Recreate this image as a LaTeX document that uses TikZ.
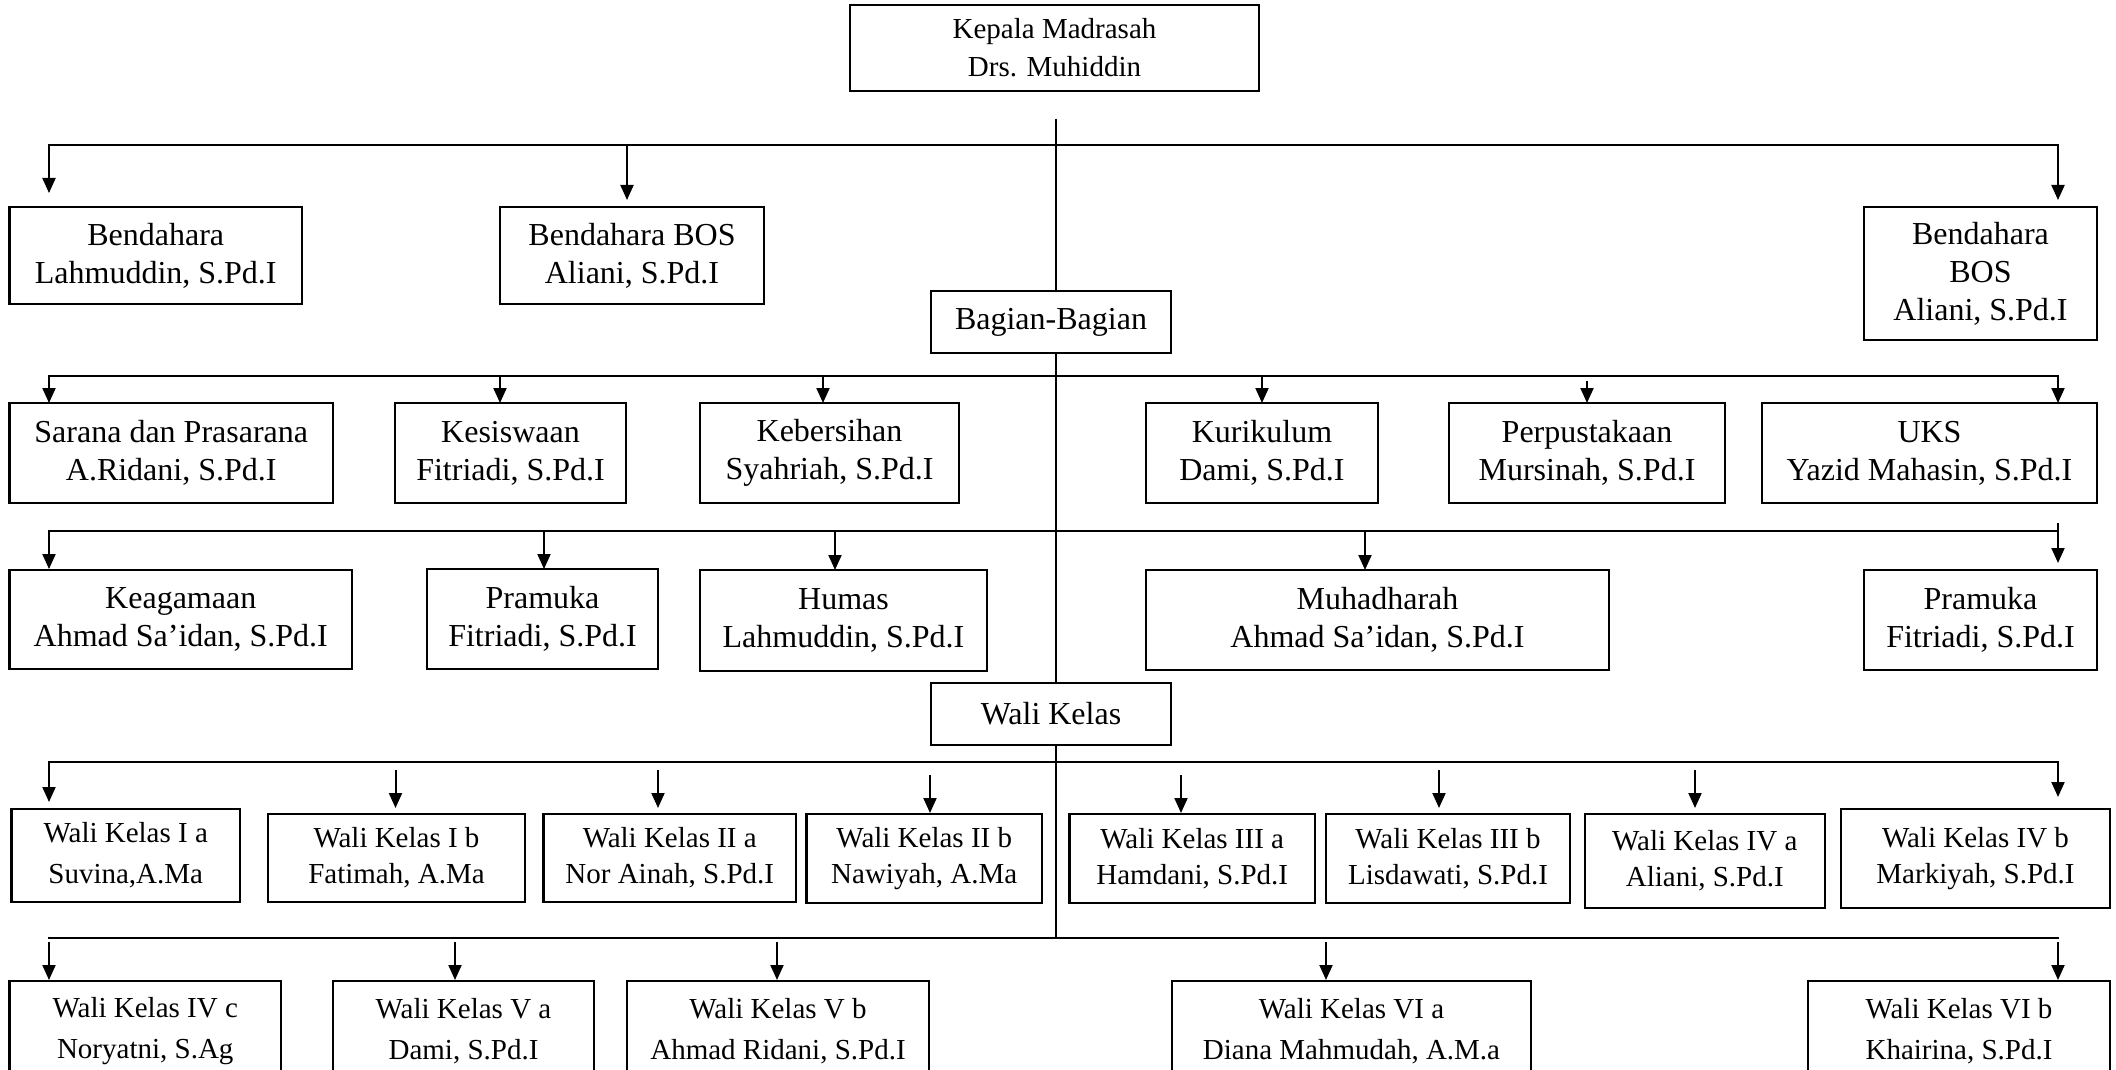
\documentclass[tikz,border=0pt]{standalone}
\usepackage{fontspec}
\setmainfont{Liberation Serif}
\usetikzlibrary{arrows.meta}
\tikzset{
  box/.style={draw, line width=1.1pt, rectangle, inner sep=0pt, align=center},
  bigtxt/.style={font=\fontsize{16pt}{19pt}\selectfont},
  headtxt/.style={font=\fontsize{14.5pt}{19pt}\selectfont},
  smalltxt/.style={font=\fontsize{14.5pt}{18pt}\selectfont},
  lowtxt/.style={font=\fontsize{14.5pt}{20.5pt}\selectfont},
  ln/.style={line width=1pt},
  bus/.style={line width=1.3pt, line cap=rect},
  arr/.style={line width=1pt, -{Triangle[length=7.5pt,width=6.5pt]}}
}
% \obox[style]{name}{x1}{y1}{x2}{y2}{text}
\newcommand\obox[7][bigtxt]{%
  \node[box,#1,minimum width={(#5-#3)*0.5pt},minimum height={(#6-#4)*0.5pt}]
    (#2) at ({(#3+#5)/2},{(#4+#6)/2}) {#7};}
% \drop{name}{x}{ystart}{ytip}
\newcommand\drop[4]{%
  \coordinate (#1s) at (#2,#3); \coordinate (#1t) at (#2,#4);
  \draw[arr] (#1s) -- (#1t);}
\begin{document}
\begin{tikzpicture}[x=0.5pt,y=-0.5pt]
\useasboundingbox (0,0) rectangle (2116,1070);
\clip (0,0) rectangle (2116,1070);
\fill[white] (0,0) rectangle (2116,1070);

% ---- boxes ----
\obox[headtxt]{kepala}{850}{5}{1259}{91}{Kepala Madrasah\\Drs. Muhiddin}
\obox{bendA}{9.5}{207}{302}{304}{Bendahara\\Lahmuddin, S.Pd.I}
\obox{bendB}{500}{207}{764}{304}{Bendahara BOS\\Aliani, S.Pd.I}
\obox{bendC}{1864}{207}{2097}{340}{Bendahara\\BOS\\Aliani, S.Pd.I}
\obox{bagian}{931}{291}{1171}{353}{Bagian-Bagian}

\obox{sarana}{9.5}{403}{333}{503}{Sarana dan Prasarana\\A.Ridani, S.Pd.I}
\obox{kesis}{395}{403}{626}{503}{Kesiswaan\\Fitriadi, S.Pd.I}
\obox{kebers}{700}{403}{959}{503}{Kebersihan\\Syahriah, S.Pd.I}
\obox{kurik}{1146}{403}{1378}{503}{Kurikulum\\Dami, S.Pd.I}
\obox{perpus}{1449}{403}{1725}{503}{Perpustakaan\\Mursinah, S.Pd.I}
\obox{uks}{1762}{403}{2097}{503}{UKS\\Yazid Mahasin, S.Pd.I}

\obox{keag}{9.5}{570}{352}{669}{Keagamaan\\Ahmad Sa’idan, S.Pd.I}
\obox{pramA}{427}{569}{658}{669}{Pramuka\\Fitriadi, S.Pd.I}
\obox{humas}{700}{570}{987}{671}{Humas\\Lahmuddin, S.Pd.I}
\obox{muhad}{1146}{570}{1609}{670}{Muhadharah\\Ahmad Sa’idan, S.Pd.I}
\obox{pramB}{1864}{570}{2097}{670}{Pramuka\\Fitriadi, S.Pd.I}
\obox{walik}{931}{683}{1171}{745}{Wali Kelas}

\obox[lowtxt]{wIa}{11.5}{809}{240}{902}{Wali Kelas I a\\Suvina,A.Ma}
\obox[smalltxt]{wIb}{268}{814}{525}{902}{Wali Kelas I b\\Fatimah, A.Ma}
\obox[smalltxt]{wIIa}{543.5}{814}{796}{902}{Wali Kelas II a\\Nor Ainah, S.Pd.I}
\obox[smalltxt]{wIIb}{806.5}{814}{1042}{903}{Wali Kelas II b\\Nawiyah, A.Ma}
\obox[smalltxt]{wIIIa}{1069.5}{814}{1315}{903}{Wali Kelas III a\\Hamdani, S.Pd.I}
\obox[smalltxt]{wIIIb}{1326}{814}{1570}{903}{Wali Kelas III b\\Lisdawati, S.Pd.I}
\obox[smalltxt]{wIVa}{1584.6}{814}{1825}{908}{Wali Kelas IV a\\Aliani, S.Pd.I}
\obox[smalltxt]{wIVb}{1841}{809}{2110}{908}{Wali Kelas IV b\\Markiyah, S.Pd.I}

\obox[lowtxt]{wIVc}{9.5}{981}{281}{1082}{Wali Kelas IV c\\Noryatni, S.Ag}
\obox[lowtxt]{wVa}{333}{981}{594}{1082}{Wali Kelas V a\\Dami, S.Pd.I}
\obox[lowtxt]{wVb}{627}{981}{929}{1082}{Wali Kelas V b\\Ahmad Ridani, S.Pd.I}
\obox[lowtxt]{wVIa}{1172}{981}{1531}{1082}{Wali Kelas VI a\\Diana Mahmudah, A.M.a}
\obox[lowtxt]{wVIb}{1808}{981}{2110}{1082}{Wali Kelas VI b\\Khairina, S.Pd.I}

% ---- trunk ----
\coordinate (trunkTop) at (1056,119);
\coordinate (b1l) at (49,145);  \coordinate (b1r) at (2058,145);
\coordinate (b2l) at (49,376);  \coordinate (b2r) at (2058,376);
\coordinate (b3l) at (49,531);  \coordinate (b3r) at (2058,531);
\coordinate (b4l) at (49,762);  \coordinate (b4r) at (2058,762);
\coordinate (b5l) at (49,938);  \coordinate (b5r) at (2058,938);

\draw[ln] (trunkTop) -- (trunkTop |- bagian.north);
\draw[ln] (trunkTop |- bagian.south) -- (trunkTop |- walik.north);
\draw[ln] (trunkTop |- walik.south) -- (trunkTop |- b5l);

% ---- buses ----
\draw[bus] (b1l) -- (b1r);
\draw[bus] (b2l) -- (b2r);
\draw[bus] (b3l) -- (b3r);
\draw[bus] (b4l) -- (b4r);
\draw[bus] (b5l) -- (b5r);

% ---- arrows ----
\drop{aBendA}{49}{145}{193}
\drop{aBendB}{627}{145}{200}
\drop{aBendC}{2058}{145}{200}

\drop{aSarana}{49}{376}{403}
\drop{aKesis}{500}{376}{403}
\drop{aKebers}{823}{376}{403}
\drop{aKurik}{1262}{376}{403}
\drop{aPerpus}{1587}{381}{403}
\drop{aUks}{2058}{376}{403}

\drop{aKeag}{49}{531}{569}
\drop{aPramA}{544}{531}{569}
\drop{aHumas}{835}{531}{570}
\drop{aMuhad}{1365}{531}{570}
\drop{aPramB}{2058}{523}{563}

\drop{aWIa}{49}{762}{802}
\drop{aWIb}{395.5}{770}{808}
\drop{aWIIa}{658}{770}{808}
\drop{aWIIb}{930}{775}{813}
\drop{aWIIIa}{1181}{775}{813}
\drop{aWIIIb}{1439}{770}{808}
\drop{aWIVa}{1695}{770}{808}
\drop{aWIVb}{2058}{762}{797}

\drop{aWIVc}{49}{942}{980}
\drop{aWVa}{455}{942}{980}
\drop{aWVb}{777}{942}{980}
\drop{aWVIa}{1326}{942}{980}
\drop{aWVIb}{2058}{942}{980}
\end{tikzpicture}
\end{document}
